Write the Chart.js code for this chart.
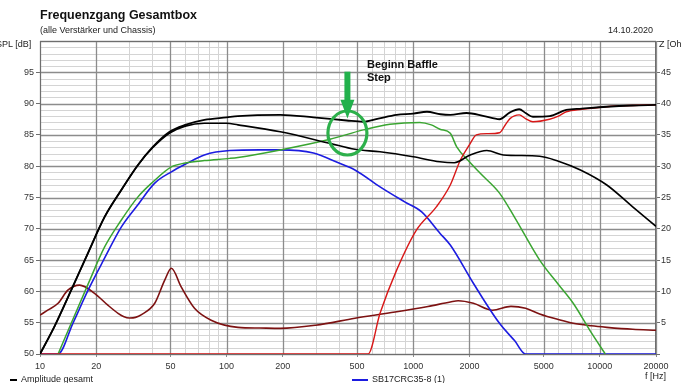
<!DOCTYPE html>
<html><head><meta charset="utf-8">
<script src="https://cdn.jsdelivr.net/npm/chart.js@4.4.1/dist/chart.umd.min.js"></script>
<style>
html,body{margin:0;padding:0;background:#fff;overflow:hidden}
#wrap{position:relative;width:682px;height:383px;overflow:hidden;font-family:"Liberation Sans",Arial,sans-serif}
canvas{position:absolute;left:0;top:0}
.t{position:absolute;white-space:nowrap;color:#222;line-height:1}
</style></head><body>
<div id="wrap">
<canvas id="c" width="682" height="383"></canvas>
<div class="t" style="left:40px;top:9px;font-weight:bold;font-size:12.5px;color:#111">Frequenzgang Gesamtbox</div>
<div class="t" style="left:40px;top:26px;font-size:9px;">(alle Verstärker und Chassis)</div>
<div class="t" style="left:608px;top:26px;font-size:9px;">14.10.2020</div>
<div class="t" style="left:-4px;top:40px;font-size:9px;">SPL [dB]</div>
<div class="t" style="left:659px;top:40px;font-size:9px;">Z [Ohm]</div>
<div class="t" style="left:645px;top:372px;font-size:9px;">f [Hz]</div>
<div class="t" style="left:367px;top:58px;font-size:11px;font-weight:bold;color:#111;line-height:13px;font-family:Arial,'Liberation Sans',sans-serif">Beginn Baffle<br>Step</div>
<div class="t" style="left:10px;top:375px;font-size:9px;"><span style="display:inline-block;width:7px;height:2px;background:#000;vertical-align:middle;margin-right:4px"></span>Amplitude gesamt</div>
<div class="t" style="left:352px;top:375px;font-size:9px;"><span style="display:inline-block;width:16px;height:2px;background:#1c1ce0;vertical-align:middle;margin-right:4px"></span>SB17CRC35-8 (1)</div>
</div>
<script>
// ---- data ----
const xTickValues = [10,20,30,40,50,60,70,80,90,100,200,300,400,500,600,700,800,900,1000,2000,3000,4000,5000,6000,7000,8000,9000,10000,20000];
const xLabelValues = [10,20,50,100,200,500,1000,2000,5000,10000,20000];

const totalF  = [10,12,14.7,18,22.2,27,33.5,40,49.5,60,76,100,115,194,292,440,540,650,815,1000,1185,1400,1580,1930,2400,2900,3300,3700,4000,4380,5380,6610,8000,10900,15000,20000];
const totalDb = [50,54.5,60.2,66,71.9,76,80.2,83,85.5,86.6,87.4,87.8,88.0,88.2,87.8,87.3,87.1,87.6,88.2,88.4,88.7,88.3,88.2,88.5,88.0,87.5,88.6,89.1,88.5,87.9,88.0,89.0,89.2,89.5,89.7,89.8];

const lowF  = [10,12,14.7,18,22.2,27,33.5,40,49.5,60,76,100,115,194,358,487,664,1000,1390,1660,2020,2480,3040,4760,6000,7870,10900,15000,20000];
const lowDb = [50,54.5,60.2,66,71.9,76,80.2,82.9,85.3,86.4,86.85,86.85,86.6,85.5,83.65,82.7,82.3,81.5,80.7,80.55,81.8,82.5,81.8,81.6,80.8,79.4,77,73.5,70.4];

const greenF  = [12.5,14.7,18,22.2,27,33.5,40,50.6,60,76,104,115,194,358,540,750,1085,1250,1390,1580,1710,2000,2280,2900,3500,4760,6000,7200,9000,10700];
const greenDb = [50,54.9,61,67.1,71.2,75.1,77.4,79.9,80.5,80.9,81.25,81.4,82.6,84.3,85.8,86.7,87,86.6,85.9,85.25,83.1,80.7,78.9,75.7,71.8,65,61.1,58.1,53.4,50];

const wooferF  = [10,12.5,15,18.1,22,27.3,33,41.2,50.6,60,76,104,150,194,292,400,487,664,900,1110,1390,1580,2100,2900,3500,4000,20000];
const wooferDb = [50,50,54.9,60.2,65.1,70.3,73.6,77.3,79.1,80.3,81.8,82.5,82.6,82.6,82.1,80.5,79.4,76.7,74.3,72.7,69.3,67.4,61.3,54.9,52.1,50,50];

const tweeterF  = [10,573,664,815,1040,1330,1580,1790,2000,2180,2500,2900,3100,3300,3700,4000,4380,5380,6000,6610,8000,10900,15000,20000];
const tweeterDb = [50,50,56.5,63.4,69.8,73.5,77,81,83.4,85.0,85.2,85.35,86.5,87.6,88.2,87.6,87.1,87.5,88.0,88.7,89.1,89.5,89.7,89.8];

const impF   = [10,11,12.5,14.1,16.3,19.6,23.1,26.2,28,30.2,32.5,35,41.2,46.6,50.6,57,67.3,82.6,115,150,194,300,487,800,1200,1580,1740,2100,2660,3340,4000,4760,6000,7200,9000,10900,15000,20000];
const impOhm = [6.2,7.0,8.1,10.2,11.0,9.7,7.8,6.5,6.0,5.75,5.85,6.3,8.1,11.8,13.7,10.75,7.3,5.4,4.26,4.15,4.1,4.6,5.7,6.7,7.6,8.3,8.5,8.1,7.0,7.6,7.3,6.4,5.5,4.9,4.5,4.26,3.95,3.8];

const yMinorStep = 1, yMajorStep = 5;

// annotation anchor (frequency / dB)
const markF = 444, markDb = 85.3;

const pts = (f, v) => f.map((x, i) => ({x, y: v[i]}));
const ds = (label, f, v, color, axis='y', w=1.6) => ({
  label, data: pts(f, v), borderColor: color, backgroundColor: color,
  borderWidth: w, pointRadius: 0, fill: false, yAxisID: axis,
  cubicInterpolationMode: 'monotone'
});

const gridPlugin = {
  id: 'gridPlugin',
  beforeDatasetsDraw(chart) {
    const {ctx, chartArea: a, scales: {x, y}} = chart;
    ctx.save();
    const line = (x1, y1, x2, y2) => { ctx.beginPath(); ctx.moveTo(x1, y1); ctx.lineTo(x2, y2); ctx.stroke(); };
    // minor lines
    ctx.strokeStyle = '#d4d4d4'; ctx.lineWidth = 1;
    for (const v of xTickValues) if (!xLabelValues.includes(v)) { const px = Math.round(x.getPixelForValue(v)) + 0.5; line(px, a.top, px, a.bottom); }
    for (let v = 50; v <= 100; v += yMinorStep) if (v % yMajorStep) { const py = Math.round(y.getPixelForValue(v)) + 0.5; line(a.left, py, a.right, py); }
    // major lines
    ctx.strokeStyle = '#8c8c8c'; ctx.lineWidth = 1.3;
    for (const v of xLabelValues) { const px = Math.round(x.getPixelForValue(v)) + 0.5; line(px, a.top, px, a.bottom); }
    for (let v = 50; v <= 100; v += yMajorStep) { const py = Math.round(y.getPixelForValue(v)) + 0.5; line(a.left, py, a.right, py); }
    // frame
    ctx.strokeStyle = '#6e6e6e'; ctx.lineWidth = 1;
    ctx.strokeRect(a.left + 0.5, a.top + 0.5, a.right - a.left - 1, a.bottom - a.top);
    ctx.restore();
  },
  afterDatasetsDraw(chart) {
    const {ctx, scales: {x, y}} = chart;
    const cx = x.getPixelForValue(markF), cy = y.getPixelForValue(markDb);
    ctx.save();
    ctx.strokeStyle = '#2db04b'; ctx.lineWidth = 3.2;
    ctx.beginPath(); ctx.ellipse(cx, cy, 19.5, 22, 0, 0, Math.PI * 2); ctx.stroke();
    const top = y.getPixelForValue(95.1), neck = y.getPixelForValue(90.6), tip = y.getPixelForValue(87.6);
    ctx.fillStyle = '#22b14c';
    ctx.fillRect(cx - 3, top, 6, neck - top + 1);
    ctx.beginPath(); ctx.moveTo(cx - 7, neck); ctx.lineTo(cx + 7, neck); ctx.lineTo(cx, tip); ctx.closePath(); ctx.fill();
    ctx.restore();
  }
};

const tickFont = {family: "'Liberation Sans', Arial, sans-serif", size: 9};

new Chart(document.getElementById('c'), {
  type: 'line',
  data: { datasets: [
    ds('Amplitude gesamt', totalF, totalDb, '#000000', 'y', 1.8),
    ds('Amplitude 2', lowF, lowDb, '#000000', 'y', 1.6),
    ds('Tweeter', tweeterF, tweeterDb, '#d81818', 'y', 1.4),
    ds('Green', greenF, greenDb, '#3aa531', 'y', 1.5),
    ds('SB17CRC35-8 (1)', wooferF, wooferDb, '#1c1ce0', 'y', 1.6),
    ds('Impedanz', impF, impOhm, '#7d1212', 'y2', 1.6)
  ]},
  options: {
    responsive: false, animation: false, events: [],
    layout: {padding: {top: 41, left: 0, right: 0, bottom: 0}},
    plugins: {legend: {display: false}, tooltip: {enabled: false}},
    scales: {
      x: {
        type: 'logarithmic', min: 10, max: 20000,
        afterBuildTicks: s => { s.ticks = xLabelValues.map(v => ({value: v})); },
        afterFit: s => { s.height = 29; },
        ticks: { autoSkip: false, maxRotation: 0, color: '#333', font: tickFont, padding: 4,
          callback: v => String(v) },
        grid: { drawOnChartArea: false, color: '#8a8a8a', tickLength: 3 },
        border: {color: '#6e6e6e'}
      },
      y: {
        position: 'left', min: 50, max: 100,
        afterBuildTicks: s => { const t = []; for (let v = 50; v < 100; v += yMajorStep) t.push({value: v}); s.ticks = t; },
        afterFit: s => { s.width = 40; },
        ticks: { autoSkip: false, color: '#333', font: tickFont, padding: 2, callback: v => String(v) },
        grid: { drawOnChartArea: false, color: '#6e6e6e', tickLength: 4 },
        border: {color: '#6e6e6e'}
      },
      y2: {
        position: 'right', min: 0, max: 50,
        afterBuildTicks: s => { const t = []; for (let v = 0; v <= 50; v += 5) t.push({value: v}); s.ticks = t; },
        afterFit: s => { s.width = 26; },
        ticks: { autoSkip: false, color: '#333', font: tickFont, padding: 1,
          callback: v => (v > 0 && v < 50) ? String(v) : '' },
        grid: { drawOnChartArea: false, color: '#6e6e6e', tickLength: 4 },
        border: {color: '#6e6e6e'}
      }
    }
  },
  plugins: [gridPlugin]
});
</script>
</body></html>
